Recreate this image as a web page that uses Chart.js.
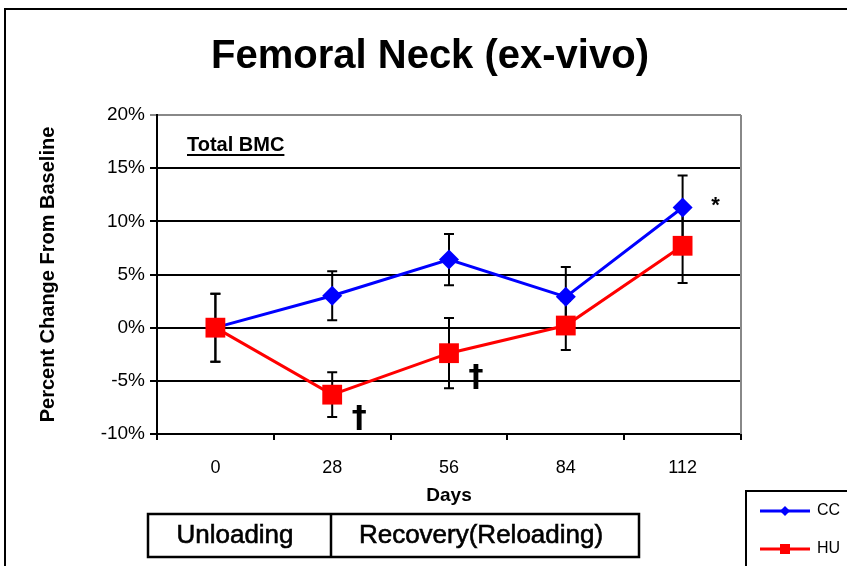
<!DOCTYPE html>
<html>
<head>
<meta charset="utf-8">
<script src="https://cdn.jsdelivr.net/npm/chart.js"></script>
<style>
  html, body { margin: 0; padding: 0; background: #fff; }
  #wrap { width: 847px; height: 566px; }
</style>
</head>
<body>
<div id="wrap"><canvas id="myChart" width="847" height="566"></canvas></div>
<script>
// data
const days = ['0', '28', '56', '84', '112'];
const ccValues = [0, 3.0, 6.4, 2.9, 11.3];
const ccErrors = [3.2, 2.3, 2.4, 2.8, 3.0];
const huValues = [0, -6.3, -2.4, 0.2, 7.7];
const huErrors = [3.2, 2.1, 3.3, 2.3, 3.5];
const yTicks = [-10, -5, 0, 5, 10, 15, 20];
const phases = ['Unloading', 'Recovery(Reloading)'];
// significance marks: [series, day index, symbol]
const marks = [['HU', 1, '†'], ['HU', 2, '†'], ['CC', 4, '*']];

const FONT = "'Liberation Sans', Arial, sans-serif";
Chart.defaults.font.family = FONT;
Chart.defaults.color = '#000';

const errorBars = {
  id: 'errorBars',
  beforeDatasetsDraw(chart) {
    const { ctx, scales: { x, y } } = chart;
    ctx.save();
    ctx.strokeStyle = '#000';
    ctx.lineWidth = 2;
    chart.data.datasets.forEach((ds) => {
      ds.errors.forEach((e, i) => {
        const px = x.getPixelForValue(i);
        const top = y.getPixelForValue(ds.data[i] + e);
        const bot = y.getPixelForValue(ds.data[i] - e);
        ctx.beginPath();
        ctx.moveTo(px, top); ctx.lineTo(px, bot);
        ctx.moveTo(px - 5, top); ctx.lineTo(px + 5, top);
        ctx.moveTo(px - 5, bot); ctx.lineTo(px + 5, bot);
        ctx.stroke();
      });
    });
    // plot area border (grey on the right)
    const a = chart.chartArea;
    ctx.strokeStyle = '#888';
    ctx.beginPath();
    ctx.moveTo(a.right, a.top); ctx.lineTo(a.right, a.bottom);
    ctx.stroke();
    ctx.restore();
  }
};

const decorations = {
  id: 'decorations',
  afterDraw(chart) {
    const { ctx, scales: { x, y }, chartArea: a } = chart;
    ctx.save();
    ctx.fillStyle = '#000';
    ctx.strokeStyle = '#000';

    // outer frame
    ctx.lineWidth = 2;
    ctx.beginPath();
    ctx.moveTo(5, 566); ctx.lineTo(5, 9); ctx.lineTo(847, 9);
    ctx.stroke();

    // title
    ctx.font = 'bold 40px ' + FONT;
    ctx.textAlign = 'center';
    ctx.textBaseline = 'middle';
    ctx.fillText('Femoral Neck (ex-vivo)', 430, 57);

    // panel label
    ctx.font = 'bold 20px ' + FONT;
    ctx.textAlign = 'left';
    ctx.textBaseline = 'alphabetic';
    const lbl = 'Total BMC';
    ctx.fillText(lbl, a.left + 30, a.top + 36);
    const w = ctx.measureText(lbl).width;
    ctx.fillRect(a.left + 30, a.top + 39, w, 2);

    // significance marks
    marks.forEach(([name, i, sym]) => {
      const ds = chart.data.datasets.find(d => d.label === name);
      const px = x.getPixelForValue(i);
      const py = y.getPixelForValue(ds.data[i]);
      ctx.textAlign = 'center';
      ctx.textBaseline = 'middle';
      if (sym === '†') {
        ctx.font = "bold 30px 'DejaVu Sans', sans-serif";
        ctx.fillText(sym, px + 27, py + 25);
      } else {
        ctx.font = 'bold 22px ' + FONT;
        ctx.fillText(sym, px + 33, py - 2);
      }
    });

    // phase box under the axis
    ctx.lineWidth = 2.5;
    ctx.strokeRect(148, 514, 491, 43);
    ctx.beginPath();
    ctx.moveTo(331, 514); ctx.lineTo(331, 557);
    ctx.stroke();
    ctx.font = '26px ' + FONT;
    ctx.textAlign = 'center';
    ctx.textBaseline = 'middle';
    ctx.lineWidth = 0.6;
    [[phases[0], 235], [phases[1], 481]].forEach(([t, tx]) => {
      ctx.fillText(t, tx, 536);
      ctx.strokeText(t, tx, 536);
    });

    // legend box
    ctx.lineWidth = 2;
    ctx.beginPath();
    ctx.moveTo(746, 566); ctx.lineTo(746, 491); ctx.lineTo(847, 491);
    ctx.stroke();
    const rows = [511, 549];
    chart.data.datasets.slice().sort((p, q) => q.order - p.order).forEach((ds, k) => {
      const ly = rows[k];
      ctx.strokeStyle = ds.borderColor;
      ctx.fillStyle = ds.borderColor;
      ctx.lineWidth = 3;
      ctx.beginPath();
      ctx.moveTo(760, ly); ctx.lineTo(810, ly);
      ctx.stroke();
      ctx.beginPath();
      if (ds.pointStyle === 'rectRot') {
        ctx.moveTo(785, ly - 5); ctx.lineTo(790, ly); ctx.lineTo(785, ly + 5); ctx.lineTo(780, ly);
        ctx.closePath();
        ctx.fill();
      } else {
        ctx.fillRect(780, ly - 5, 10, 10);
      }
      ctx.fillStyle = '#000';
      ctx.font = '16px ' + FONT;
      ctx.textAlign = 'left';
      ctx.textBaseline = 'middle';
      ctx.fillText(ds.label, 817, ly);
    });
    ctx.restore();
  }
};

const ctx = document.getElementById('myChart').getContext('2d');
const myChart = new Chart(ctx, {
  type: 'line',
  data: {
    labels: days,
    datasets: [
      {
        label: 'CC',
        data: ccValues,
        errors: ccErrors,
        borderColor: '#0000ff',
        backgroundColor: '#0000ff',
        borderWidth: 3,
        pointStyle: 'rectRot',
        pointRadius: 10,
        pointBorderWidth: 0,
        order: 2
      },
      {
        label: 'HU',
        data: huValues,
        errors: huErrors,
        borderColor: '#ff0000',
        backgroundColor: '#ff0000',
        borderWidth: 3,
        pointStyle: 'rect',
        pointRadius: 14,
        pointBorderWidth: 0,
        order: 1
      }
    ]
  },
  options: {
    responsive: false,
    animation: false,
    events: [],
    layout: { padding: { left: 8, right: 106, top: 115, bottom: 0 } },
    plugins: {
      legend: { display: false },
      title: { display: false },
      tooltip: { enabled: false }
    },
    scales: {
      x: {
        offset: true,
        grid: { offset: true, drawOnChartArea: false, drawTicks: true, tickLength: 6, color: '#000', lineWidth: 2 },
        border: { color: '#000', width: 2 },
        ticks: { font: { size: 18 }, color: '#000', padding: 17 },
        title: { display: true, text: 'Days', font: { size: 19, weight: 'bold' }, color: '#000', padding: { top: 0, bottom: 59 } },
        afterFit(scale) { scale.height = 132; }
      },
      y: {
        min: yTicks[0],
        max: yTicks[yTicks.length - 1],
        afterBuildTicks(scale) { scale.ticks = yTicks.map(v => ({ value: v })); },
        grid: {
          color: (c) => c.tick && c.tick.value === yTicks[yTicks.length - 1] ? '#888' : '#000',
          lineWidth: 2,
          drawTicks: true,
          tickLength: 7
        },
        border: { color: '#000', width: 2 },
        ticks: { font: { size: 19 }, color: '#000', padding: 5, callback: (v) => v + '%' },
        title: { display: true, text: 'Percent Change From Baseline', font: { size: 20, weight: 'bold' }, color: '#000', padding: { top: 28, bottom: 0 } },
        afterFit(scale) { scale.width = 149; }
      }
    }
  },
  plugins: [errorBars, decorations]
});
</script>
</body>
</html>
